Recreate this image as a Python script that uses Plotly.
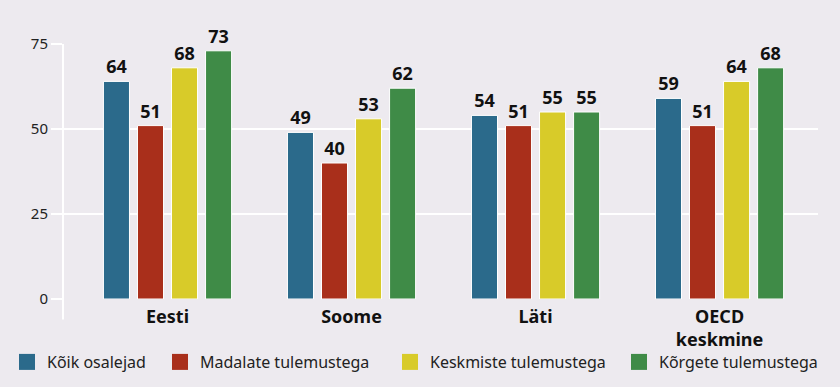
import plotly.graph_objects as go

categories = ["Eesti", "Soome", "Läti", "OECD<br>keskmine"]
series_names = ["Kõik osalejad", "Madalate tulemustega", "Keskmiste tulemustega", "Kõrgete tulemustega"]
values_koik = [64, 49, 54, 59]
values_madal = [51, 40, 51, 51]
values_kesk = [68, 53, 55, 64]
values_korge = [73, 62, 55, 68]
colors = ["#2b6a8b", "#a92f1b", "#d8cb29", "#3f8b47"]
y_ticks = [0, 25, 50, 75]

FONT = "Noto Sans"
BG = "#edeaef"
W, H = 840, 387
legend_left_px = [7, 160, 390, 619]

fig = go.Figure()
for name, vals, col in zip(series_names, [values_koik, values_madal, values_kesk, values_korge], colors):
    fig.add_trace(go.Bar(
        x=categories, y=vals, name=name, showlegend=False,
        marker=dict(color=col, line=dict(color="white", width=1)),
        text=vals, textposition="outside", cliponaxis=False,
        textfont=dict(family=FONT, size=18, color="#111111", weight="bold"),
        hoverinfo="skip",
    ))

legend_ids = ["legend", "legend2", "legend3", "legend4"]
for name, col, lid in zip(series_names, colors, legend_ids):
    fig.add_trace(go.Scatter(
        x=[None], y=[None], mode="markers", name=name, legend=lid,
        marker=dict(symbol="square", size=16, color=col),
    ))

layout_legends = {}
for lid, lx in zip(legend_ids, legend_left_px):
    layout_legends[lid] = dict(
        orientation="h", xref="container", yref="container",
        x=lx / W, xanchor="left", y=(H - 362) / H, yanchor="middle",
        font=dict(family=FONT, size=16, color="#222222"),
        itemsizing="trace", bgcolor="rgba(0,0,0,0)",
    )

fig.update_layout(
    width=W, height=H,
    paper_bgcolor=BG, plot_bgcolor=BG,
    margin=dict(l=63, r=22, t=44, b=88, autoexpand=False),
    barmode="group", bargap=0.26, bargroupgap=0.235,
    font=dict(family=FONT, size=15, color="#222222"),
    showlegend=True,
    **layout_legends,
)
fig.update_xaxes(
    range=[-0.568, 3.535], showgrid=False, zeroline=False, showline=False,
    tickfont=dict(family=FONT, size=18, color="#111111", weight="bold"),
    ticks="", ticklabelstandoff=5,
)
fig.update_yaxes(
    range=[0, 75], tickvals=y_ticks, showgrid=True, gridcolor="white", gridwidth=2,
    zeroline=False, showline=False, ticks="outside", ticklen=11, tickcolor="white", tickwidth=2,
    tickfont=dict(family=FONT, size=15, color="#222222"),
)
fig.add_shape(type="line", xref="paper", yref="paper", x0=0, x1=0, y0=-0.08, y1=1,
              line=dict(color="white", width=2), layer="below")

fig.write_html(
    "out.html",
    config={"displayModeBar": False},
    post_script="document.body.style.margin='0';document.body.style.background='" + BG + "';",
)
